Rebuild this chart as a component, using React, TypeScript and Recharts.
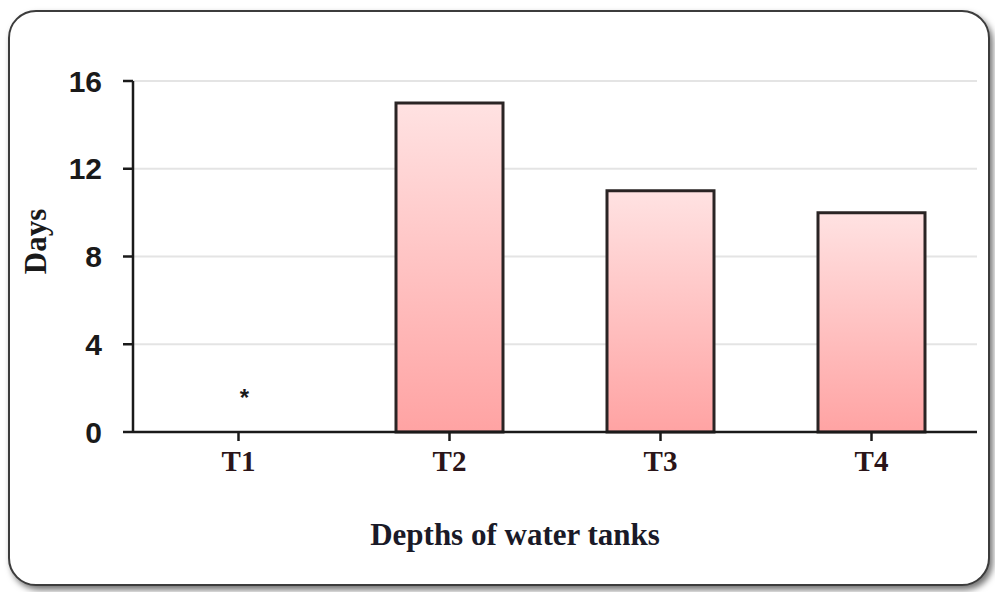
import React from 'react';
import { ComposedChart, Bar, Scatter, XAxis, YAxis, CartesianGrid, Label } from 'recharts';

const tanks = ['T1', 'T2', 'T3', 'T4'];
const days = [0, 15, 11, 10];
// T1 has no bar, only an asterisk drawn at about 1.8 days
const notes = ['*', '', '', ''];
const noteLevel = [1.8, null, null, null];
const yTicks = [0, 4, 8, 12, 16];

const data = tanks.map((t, i) => ({ tank: t, days: days[i], note: notes[i], noteY: noteLevel[i] }));

const serif = '"Liberation Serif", "Times New Roman", serif';
const sans = '"Liberation Sans", Arial, sans-serif';

const DaysLabel = (props: any) => {
  const { viewBox } = props;
  const x = viewBox.x + 12;
  const y = viewBox.y + viewBox.height / 2 - 15;
  return (
    <text
      x={x}
      y={y}
      transform={`rotate(-90, ${x}, ${y})`}
      textAnchor="middle"
      dominantBaseline="central"
      fontFamily={serif}
      fontWeight="bold"
      fontSize={31}
      fill="#1a1a1a"
    >
      Days
    </text>
  );
};

const TitleLabel = (props: any) => {
  const { viewBox } = props;
  // the title sits a bit left of the plot centre in the original
  const x = viewBox.x + viewBox.width / 2 - 40;
  const y = viewBox.y + viewBox.height - 28;
  return (
    <text
      x={x}
      y={y}
      textAnchor="middle"
      dominantBaseline="central"
      fontFamily={serif}
      fontWeight="bold"
      fontSize={31}
      fill="#1a1a28"
    >
      Depths of water tanks
    </text>
  );
};

const NoteMark = (props: any) => {
  const { cx, cy, payload } = props;
  if (cx == null || cy == null || !payload?.note) return null;
  return (
    <text
      x={cx + 6}
      y={cy + 5}
      textAnchor="middle"
      dominantBaseline="central"
      fontFamily={sans}
      fontWeight="bold"
      fontSize={24}
      fill="#1a1a1a"
    >
      {payload.note}
    </text>
  );
};

const App: React.FC = () => {
  return (
    <div style={{ position: 'absolute', left: 0, top: 0, width: 995, height: 592, background: '#fff' }}>
      <div
        style={{
          position: 'absolute',
          left: 8,
          top: 10,
          width: 978,
          height: 572,
          border: '2px solid #3c3c3c',
          borderRadius: 28,
          boxShadow: '3px 4px 6px rgba(0,0,0,0.55)',
          background: '#fff',
        }}
      />
      <div style={{ position: 'absolute', left: 0, top: 0 }}>
        <ComposedChart
          width={995}
          height={592}
          data={data}
          margin={{ top: 81, right: 18, bottom: 30, left: 23 }}
        >
          <defs>
            <linearGradient id="barFill" x1="0" y1="0" x2="0" y2="1">
              <stop offset="0%" stopColor="#ffe2e2" />
              <stop offset="100%" stopColor="#ffa3a3" />
            </linearGradient>
          </defs>
          <CartesianGrid vertical={false} stroke="#e4e4e4" strokeWidth={2} />
          <XAxis
            dataKey="tank"
            height={130}
            stroke="#1a1a1a"
            strokeWidth={2.5}
            tickSize={9}
            tickMargin={9}
            tick={{ fontFamily: serif, fontWeight: 'bold', fontSize: 29, fill: '#2a1418' }}
          >
            <Label content={<TitleLabel />} />
          </XAxis>
          <YAxis
            domain={[0, 16]}
            ticks={yTicks}
            width={110}
            stroke="#1a1a1a"
            strokeWidth={2.5}
            tickSize={10}
            tickMargin={21}
            tick={{ fontFamily: sans, fontWeight: 'bold', fontSize: 30, fill: '#1a1a1a' }}
          >
            <Label content={<DaysLabel />} />
          </YAxis>
          <Bar
            dataKey="days"
            barSize={107}
            fill="url(#barFill)"
            stroke="#2a2424"
            strokeWidth={3}
            isAnimationActive={false}
          />
          <Scatter dataKey="noteY" shape={<NoteMark />} isAnimationActive={false} />
        </ComposedChart>
      </div>
    </div>
  );
};

export default App;
